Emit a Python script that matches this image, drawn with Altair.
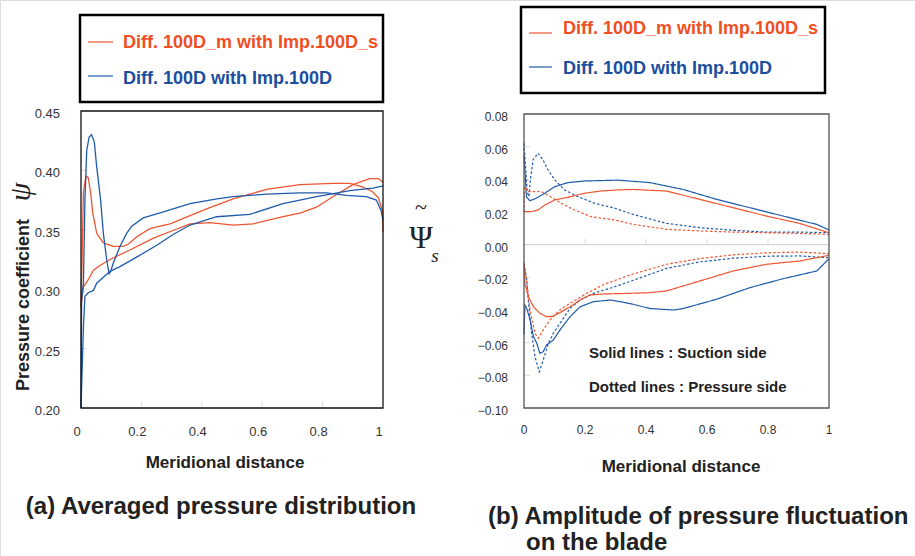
import altair as alt
import pandas as pd

# ---------------- data ----------------
CASES = ["Diff. 100D_m with Imp.100D_s", "Diff. 100D with Imp.100D"]
SIDES = ["Suction side", "Pressure side"]
X_TICKS = [0, 0.2, 0.4, 0.6, 0.8, 1]
YA_TICKS = [0.20, 0.25, 0.30, 0.35, 0.40, 0.45]
YB_TICKS = [-0.10, -0.08, -0.06, -0.04, -0.02, 0.00, 0.02, 0.04, 0.06, 0.08]

# (a) averaged pressure distribution
red_a_x = [0.0, 0.004, 0.008, 0.014, 0.019, 0.024, 0.032, 0.039, 0.052, 0.074, 0.107, 0.14, 0.157, 0.184,
           0.228, 0.262, 0.295, 0.361, 0.42, 0.504, 0.614, 0.724, 0.835, 0.89, 0.934, 0.965, 0.985, 0.998, 1.0]
red_a_y = [0.285, 0.33, 0.381, 0.392, 0.395, 0.394, 0.381, 0.364, 0.347, 0.339, 0.336, 0.336, 0.338, 0.344,
           0.351, 0.353, 0.355, 0.362, 0.368, 0.376, 0.384, 0.388, 0.389, 0.389, 0.386, 0.382, 0.377, 0.366, 0.348]
red_b_x = [0.0, 0.008, 0.024, 0.041, 0.063, 0.096, 0.162, 0.24, 0.30, 0.361, 0.427, 0.504, 0.57, 0.669,
           0.725, 0.78, 0.835, 0.9, 0.956, 0.985, 1.0]
red_b_y = [0.285, 0.302, 0.308, 0.316, 0.32, 0.325, 0.333, 0.343, 0.349, 0.355, 0.356, 0.354, 0.355, 0.361,
           0.364, 0.369, 0.378, 0.388, 0.393, 0.393, 0.39]
blue_a_x = [0.0, 0.002, 0.008, 0.013, 0.019, 0.027, 0.035, 0.044, 0.052, 0.065, 0.074, 0.085, 0.093, 0.098,
            0.107, 0.129, 0.151, 0.168, 0.206, 0.273, 0.361, 0.45, 0.504, 0.614, 0.724, 0.813, 0.879, 0.945,
            0.978, 0.994, 1.0]
blue_a_y = [0.2, 0.291, 0.305, 0.375, 0.417, 0.428, 0.43, 0.424, 0.403, 0.375, 0.347, 0.325, 0.313, 0.315,
            0.322, 0.336, 0.347, 0.353, 0.36, 0.365, 0.372, 0.376, 0.378, 0.38, 0.381, 0.381, 0.379, 0.378,
            0.375, 0.366, 0.358]
blue_b_x = [0.0, 0.008, 0.013, 0.024, 0.041, 0.052, 0.074, 0.096, 0.129, 0.184, 0.251, 0.305, 0.361, 0.449,
            0.559, 0.669, 0.78, 0.89, 0.967, 1.0]
blue_b_y = [0.2, 0.268, 0.294, 0.297, 0.299, 0.305, 0.31, 0.315, 0.319, 0.327, 0.337, 0.346, 0.354, 0.361,
            0.363, 0.372, 0.378, 0.383, 0.385, 0.387]

# (b) amplitude of pressure fluctuation
red_ss_up_x = [0.0, 0.024, 0.046, 0.068, 0.101, 0.144, 0.199, 0.254, 0.308, 0.358, 0.468, 0.577, 0.686,
               0.795, 0.904, 1.0]
red_ss_up_y = [0.0202, 0.0202, 0.0212, 0.0243, 0.0274, 0.029, 0.0315, 0.0329, 0.0335, 0.0338, 0.0328, 0.0277,
               0.0226, 0.0175, 0.013, 0.0073]
blue_ss_up_x = [0.0, 0.003, 0.008, 0.019, 0.04, 0.068, 0.101, 0.144, 0.199, 0.308, 0.413, 0.522, 0.632,
                0.741, 0.85, 0.96, 1.0]
blue_ss_up_y = [0.055, 0.0457, 0.0294, 0.0269, 0.0284, 0.0315, 0.0355, 0.038, 0.039, 0.0395, 0.038, 0.0338,
                0.0277, 0.0226, 0.0175, 0.0124, 0.009]
red_ps_up_x = [0.0, 0.002, 0.013, 0.035, 0.057, 0.09, 0.122, 0.166, 0.221, 0.298, 0.358, 0.468, 0.577,
               0.686, 0.795, 0.904, 1.0]
red_ps_up_y = [0.02, 0.0355, 0.0325, 0.0325, 0.0325, 0.029, 0.0253, 0.0212, 0.0171, 0.0151, 0.0124, 0.0094,
               0.0084, 0.0077, 0.0073, 0.0069, 0.0063]
blue_ps_up_x = [0.0, 0.005, 0.011, 0.016, 0.022, 0.03, 0.046, 0.062, 0.079, 0.101, 0.133, 0.177, 0.232,
                0.298, 0.358, 0.468, 0.577, 0.686, 0.795, 0.904, 1.0]
blue_ps_up_y = [0.062, 0.048, 0.032, 0.0294, 0.0416, 0.052, 0.056, 0.052, 0.0457, 0.0396, 0.0335, 0.0294,
                0.0253, 0.0223, 0.0185, 0.013, 0.0104, 0.0088, 0.0077, 0.0077, 0.0073]
red_ss_lo_x = [0.0, 0.003, 0.014, 0.031, 0.052, 0.074, 0.091, 0.118, 0.151, 0.184, 0.216, 0.26, 0.348,
               0.413, 0.468, 0.577, 0.686, 0.795, 0.904, 1.0]
red_ss_lo_y = [-0.0124, -0.0236, -0.0318, -0.038, -0.042, -0.0441, -0.0441, -0.0416, -0.038, -0.0339,
               -0.0308, -0.0302, -0.0298, -0.0294, -0.0283, -0.0222, -0.0161, -0.012, -0.01, -0.0065]
blue_ss_lo_x = [0.0, 0.003, 0.009, 0.02, 0.031, 0.042, 0.052, 0.063, 0.074, 0.096, 0.118, 0.151, 0.184,
                0.228, 0.282, 0.315, 0.358, 0.413, 0.49, 0.522, 0.632, 0.741, 0.85, 0.96, 1.0]
blue_ss_lo_y = [-0.055, -0.037, -0.039, -0.0461, -0.0563, -0.0604, -0.0665, -0.0655, -0.0614, -0.0584,
                -0.0522, -0.0441, -0.038, -0.0349, -0.0339, -0.0349, -0.0365, -0.0391, -0.04, -0.0391,
                -0.0334, -0.0263, -0.0208, -0.0161, -0.0086]
red_ps_lo_x = [0.0, 0.007, 0.02, 0.036, 0.047, 0.063, 0.085, 0.118, 0.151, 0.206, 0.26, 0.348, 0.468,
               0.577, 0.686, 0.795, 0.904, 1.0]
red_ps_lo_y = [-0.011, -0.0196, -0.04, -0.0543, -0.0573, -0.0522, -0.0461, -0.04, -0.0359, -0.0298,
               -0.0245, -0.0185, -0.012, -0.0085, -0.0062, -0.005, -0.0045, -0.0055]
blue_ps_lo_x = [0.0, 0.009, 0.014, 0.025, 0.036, 0.05, 0.063, 0.08, 0.096, 0.118, 0.151, 0.184, 0.228,
                0.282, 0.348, 0.468, 0.577, 0.686, 0.795, 0.904, 1.0]
blue_ps_lo_y = [-0.012, -0.0216, -0.0339, -0.0543, -0.0686, -0.0778, -0.0706, -0.0604, -0.0543, -0.0481,
                -0.039, -0.0339, -0.0298, -0.0267, -0.0225, -0.0145, -0.0105, -0.0083, -0.0071, -0.0069,
                -0.008]

# ---------------- styles ----------------
RED = "#EF5530"
BLUE = "#1F5BAA"
RED_TXT = "#F04E23"
BLUE_TXT = "#1B4E9E"
FONT = "Liberation Sans"
SERIF = "Liberation Serif"
LAB = "#333333"
FAINT = "#cccccc"


def rows(case, part, xs, ys, side=""):
    return [dict(case=case, part=part, side=side, x=x, y=y, i=i)
            for i, (x, y) in enumerate(zip(xs, ys))]


left_df = pd.DataFrame(
    rows(CASES[0], "a1", red_a_x, red_a_y) + rows(CASES[0], "a2", red_b_x, red_b_y)
    + rows(CASES[1], "b1", blue_a_x, blue_a_y) + rows(CASES[1], "b2", blue_b_x, blue_b_y)
)
right_df = pd.DataFrame(
    rows(CASES[1], "b_ss_up", blue_ss_up_x, blue_ss_up_y, SIDES[0])
    + rows(CASES[1], "b_ps_up", blue_ps_up_x, blue_ps_up_y, SIDES[1])
    + rows(CASES[1], "b_ss_lo", blue_ss_lo_x, blue_ss_lo_y, SIDES[0])
    + rows(CASES[1], "b_ps_lo", blue_ps_lo_x, blue_ps_lo_y, SIDES[1])
    + rows(CASES[0], "r_ss_up", red_ss_up_x, red_ss_up_y, SIDES[0])
    + rows(CASES[0], "r_ps_up", red_ps_up_x, red_ps_up_y, SIDES[1])
    + rows(CASES[0], "r_ss_lo", red_ss_lo_x, red_ss_lo_y, SIDES[0])
    + rows(CASES[0], "r_ps_lo", red_ps_lo_x, red_ps_lo_y, SIDES[1])
)

color = alt.Color("case:N", scale=alt.Scale(domain=CASES, range=[RED, BLUE]), legend=None)

xa_scale = alt.Scale(domain=[0, 1], range=[81, 383], nice=False, zero=False)
ya_scale = alt.Scale(domain=[0.2, 0.45], range=[408, 111], nice=False, zero=False)
xb_scale = alt.Scale(domain=[0, 1], range=[524, 829], nice=False, zero=False)
yb_scale = alt.Scale(domain=[-0.10, 0.08], range=[408, 114], nice=False, zero=False)

xt_df = pd.DataFrame({"v": X_TICKS})
xt_inner_df = pd.DataFrame({"v": X_TICKS[1:-1]})
ya_df = pd.DataFrame({"v": YA_TICKS})
ya_inner_df = pd.DataFrame({"v": YA_TICKS[1:-1]})
yb_df = pd.DataFrame({"v": YB_TICKS})
yb_inner_df = pd.DataFrame({"v": YB_TICKS[1:-1]})


def xlabels(ypix, size, dx):
    return alt.Chart(xt_df).mark_text(fontSize=size, font=FONT, color=LAB, baseline="middle",
                                      align="center", dx=dx).encode(
        x=alt.X("v:Q", axis=None), y=alt.value(ypix), text=alt.Text("v:Q", format="~g"))


def ylabels(df, xpix, size):
    return alt.Chart(df).mark_text(fontSize=size, font=FONT, color=LAB, baseline="middle",
                                   align="right", dy=3).encode(
        y=alt.Y("v:Q", axis=None), x=alt.value(xpix), text=alt.Text("v:Q", format=".2f"))


def xticks(ypix):
    return alt.Chart(xt_inner_df).mark_tick(color=FAINT, size=6, thickness=1).encode(
        x=alt.X("v:Q", axis=None), y=alt.value(ypix))


def yticks(df, xpix):
    return alt.Chart(df).mark_tick(color=FAINT, size=6, thickness=1).encode(
        y=alt.Y("v:Q", axis=None), x=alt.value(xpix))


# ---------------- panel (a) ----------------
frame_a = pd.DataFrame({"x0": [0], "x1": [1], "y0": [0.2], "y1": [0.45]})
lines_a = alt.Chart(left_df).mark_line(strokeWidth=1.3).encode(
    x=alt.X("x:Q", scale=xa_scale, axis=None),
    y=alt.Y("y:Q", scale=ya_scale, axis=None),
    color=color,
    detail="part:N",
    order="i:Q",
)
box_a = alt.Chart(frame_a).mark_rect(fillOpacity=0, stroke="#111", strokeWidth=1.3).encode(
    x=alt.X("x0:Q", axis=None), x2="x1:Q", y=alt.Y("y0:Q", axis=None), y2="y1:Q"
)
panel_a = alt.layer(
    xticks(405), yticks(ya_inner_df, 84), lines_a, box_a,
    xlabels(432, 13, -4), ylabels(ya_df, 60, 13)
)

# ---------------- panel (b) ----------------
frame_b = pd.DataFrame({"x0": [0], "x1": [1], "y0": [-0.10], "y1": [0.08]})
zero_b = pd.DataFrame({"x0": [0], "x1": [1], "y0": [0.0]})
lines_b = alt.Chart(right_df).mark_line(strokeWidth=1.2).encode(
    x=alt.X("x:Q", scale=xb_scale, axis=None),
    y=alt.Y("y:Q", scale=yb_scale, axis=None),
    color=color,
    strokeDash=alt.StrokeDash("side:N", scale=alt.Scale(domain=SIDES, range=[[1, 0], [2.5, 2]]), legend=None),
    detail="part:N",
    order="i:Q",
)
zline_b = alt.Chart(zero_b).mark_rule(color=FAINT, strokeWidth=1).encode(
    x=alt.X("x0:Q", axis=None), x2="x1:Q", y=alt.Y("y0:Q", axis=None)
)
box_b = alt.Chart(frame_b).mark_rect(fillOpacity=0, stroke="#555", strokeWidth=1.3).encode(
    x=alt.X("x0:Q", axis=None), x2="x1:Q", y=alt.Y("y0:Q", axis=None), y2="y1:Q"
)
panel_b = alt.layer(
    xticks(242), yticks(yb_inner_df, 527), zline_b, lines_b, box_b,
    xlabels(430, 12, 0), ylabels(yb_df, 508, 12)
)

# ---------------- annotations ----------------
ONE = alt.Data(values=[{"k": 1}])


def txt(s, x, y, size, color="#222", weight="bold", font=FONT, align="left", angle=0, style="normal"):
    return alt.Chart(ONE).mark_text(
        text=s, fontSize=size, color=color, fontWeight=weight, font=font, align=align,
        baseline="middle", angle=angle, fontStyle=style
    ).encode(x=alt.value(x), y=alt.value(y))


def box(x0, x1, y0, y1):
    return alt.Chart(ONE).mark_rect(fillOpacity=0, stroke="black", strokeWidth=2.5).encode(
        x=alt.value(x0), x2=alt.value(x1), y=alt.value(y0), y2=alt.value(y1))


def seg(x0, x1, y, c):
    return alt.Chart(ONE).mark_rule(color=c, strokeWidth=1.2).encode(
        x=alt.value(x0), x2=alt.value(x1), y=alt.value(y))


annots = [
    # legend (a)
    box(80, 383, 15, 102),
    seg(88, 113, 42, RED), seg(88, 113, 76, BLUE),
    txt(CASES[0], 123, 43, 18, RED_TXT), txt(CASES[1], 123, 79, 18, BLUE_TXT),
    # legend (b)
    box(521, 825, 7, 93),
    seg(529, 552, 33, RED), seg(529, 552, 67, BLUE),
    txt(CASES[0], 563, 29, 18, RED_TXT), txt(CASES[1], 563, 69, 18, BLUE_TXT),
    # axis titles
    txt("Meridional distance", 225, 463, 17, align="center"),
    txt("Meridional distance", 681, 467, 17, align="center"),
    txt("Pressure coefficient", 24, 305, 18, align="center", angle=270),
    txt("ψ", 21, 192, 30, weight="normal", font=SERIF, align="center", angle=270, style="italic"),
    txt("~", 421, 207, 22, weight="normal", font=SERIF, align="center"),
    txt("Ψ", 421, 238, 32, weight="normal", font=SERIF, align="center"),
    txt("s", 435, 256, 19, weight="normal", font=SERIF, align="center", style="italic"),
    # notes inside (b)
    txt("Solid lines : Suction side", 589, 353, 15),
    txt("Dotted lines : Pressure side", 589, 387, 15),
    # panel titles
    txt("(a) Averaged pressure distribution", 221, 507, 24, align="center"),
    txt("(b) Amplitude of pressure fluctuation", 488, 517, 24),
    txt("on the blade", 526, 543, 24),
]

chart = alt.layer(panel_a, panel_b, *annots).resolve_scale(
    x="independent", y="independent"
).properties(
    width=915, height=556, autosize=alt.AutoSizeParams(type="none"), padding=0
).configure_view(strokeWidth=0).configure(background="white")

chart.save("out.html", embed_options={"renderer": "svg", "actions": False})
